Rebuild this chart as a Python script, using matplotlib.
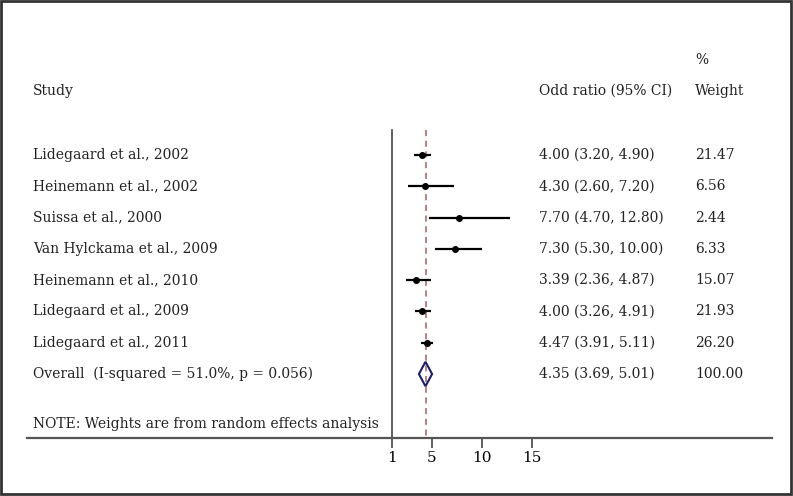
import matplotlib
matplotlib.use("Agg")
import matplotlib.pyplot as plt
from matplotlib.patches import Rectangle

# --- dades del forest plot ---
studies = ["Lidegaard et al., 2002", "Heinemann et al., 2002", "Suissa et al., 2000",
           "Van Hylckama et al., 2009", "Heinemann et al., 2010", "Lidegaard et al., 2009",
           "Lidegaard et al., 2011"]
or_est = [4.00, 4.30, 7.70, 7.30, 3.39, 4.00, 4.47]
ci_lo = [3.20, 2.60, 4.70, 5.30, 2.36, 3.26, 3.91]
ci_hi = [4.90, 7.20, 12.80, 10.00, 4.87, 4.91, 5.11]
weights = [21.47, 6.56, 2.44, 6.33, 15.07, 21.93, 26.20]

overall_label = "Overall  (I-squared = 51.0%, p = 0.056)"
overall_est, overall_lo, overall_hi = 4.35, 3.69, 5.01
overall_weight = 100.00

xticks = [1, 5, 10, 15]

plt.rcParams["font.family"] = ["DejaVu Serif"]
fs = 10

W, H = 793, 496
fig = plt.figure(figsize=(W / 100, H / 100), dpi=100)
ax = fig.add_axes([0, 0, 1, 1])

# mapatge pixels -> unitats (x lineal: 10 px per unitat, 1 a x=392)
ax.set_xlim((0 - 382) / 10, (W - 382) / 10)
row_h = 31.29
ax.set_ylim((H - 155) / row_h, (0 - 155) / row_h)

top_line = (130 - 155) / row_h
axis_y = (438 - 155) / row_h

for s in ["top", "right"]:
    ax.spines[s].set_visible(False)
ax.spines["bottom"].set_position(("data", axis_y))
ax.spines["bottom"].set_bounds((27 - 382) / 10, (772 - 382) / 10)
ax.spines["bottom"].set_color("#555555")
ax.spines["bottom"].set_linewidth(1.6)
ax.spines["left"].set_position(("data", 1))
ax.spines["left"].set_bounds(top_line, axis_y)
ax.spines["left"].set_color("#444444")
ax.spines["left"].set_linewidth(1.2)
ax.set_yticks([])
ax.set_xticks(xticks)
ax.set_xticklabels([str(t) for t in xticks], fontsize=fs + 1)
ax.tick_params(axis="x", direction="out", length=7, width=1.2, color="#444444", pad=2)

# línia de l'estimació global
ax.vlines(overall_est, top_line, axis_y, colors="#a06060", linestyles=(0, (4, 3)), lw=1.1)

# estudis
for i in range(len(studies)):
    ax.hlines(i, ci_lo[i], ci_hi[i], colors="black", lw=1.6)
    ax.plot(or_est[i], i, "o", color="black", ms=4)

# diamant global
r = len(studies)
dh = 0.39
ax.fill([overall_lo, overall_est, overall_hi, overall_est],
        [r, r - dh, r, r + dh], facecolor="none", edgecolor="#1c1c6c", lw=1.5)

# textos
tx = ax.get_yaxis_transform()
x_study, x_ci, x_w = 33 / W, 539 / W, 695 / W
kw = dict(transform=tx, va="center", fontsize=fs, color="#222222")

ax.text(x_w, (60 - 155) / row_h, "%", **kw)
ax.text(x_study, (91 - 155) / row_h, "Study", **kw)
ax.text(x_ci, (91 - 155) / row_h, "Odd ratio (95% CI)", **kw)
ax.text(x_w, (91 - 155) / row_h, "Weight", **kw)

for i in range(len(studies)):
    ax.text(x_study, i, studies[i], **kw)
    ax.text(x_ci, i, f"{or_est[i]:.2f} ({ci_lo[i]:.2f}, {ci_hi[i]:.2f})", **kw)
    ax.text(x_w, i, f"{weights[i]:.2f}", **kw)

ax.text(x_study, r, overall_label, **kw)
ax.text(x_ci, r, f"{overall_est:.2f} ({overall_lo:.2f}, {overall_hi:.2f})", **kw)
ax.text(x_w, r, f"{overall_weight:.2f}", **kw)

ax.text(x_study, (424 - 155) / row_h, "NOTE: Weights are from random effects analysis", **kw)

# marc exterior
fig.patches.append(Rectangle((0.001, 0.004), 0.996, 0.994, transform=fig.transFigure,
                             fill=False, lw=2, ec="#333333"))

fig.savefig("out.png", dpi=100)
